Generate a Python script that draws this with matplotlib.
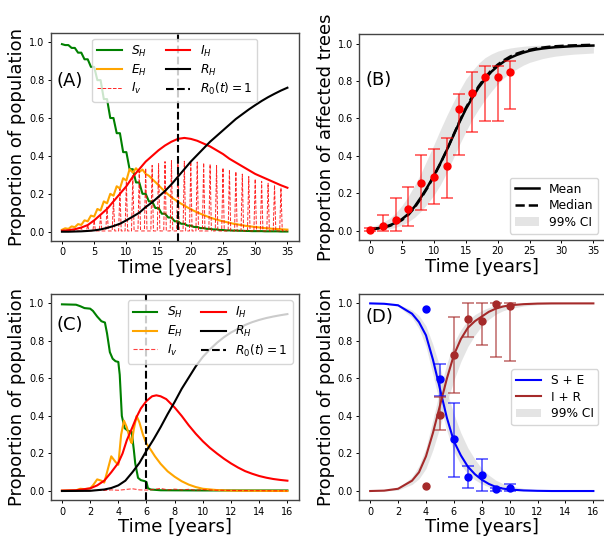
import numpy as np
import matplotlib
matplotlib.use("Agg")
import matplotlib.pyplot as plt

# ---------- panel A ----------
tA_half = np.arange(0, 35.5, 0.5)
SA = [0.990, 0.985, 0.985, 0.970, 0.970, 0.945, 0.945, 0.910, 0.910, 0.870,
      0.870, 0.800, 0.800, 0.700, 0.700, 0.600, 0.600, 0.520, 0.520, 0.420,
      0.420, 0.330, 0.330, 0.260, 0.260, 0.200, 0.200, 0.160, 0.160, 0.125,
      0.125, 0.095, 0.095, 0.075, 0.075, 0.055, 0.055, 0.042, 0.042, 0.032,
      0.032, 0.025, 0.025, 0.019, 0.019, 0.015, 0.015, 0.012, 0.012, 0.009,
      0.009, 0.007, 0.007, 0.006, 0.006, 0.005, 0.005, 0.004, 0.004, 0.003,
      0.003, 0.003, 0.003, 0.002, 0.002, 0.002, 0.002, 0.002, 0.001, 0.001,
      0.001]
EA = [0.010, 0.018, 0.015, 0.028, 0.024, 0.040, 0.036, 0.060, 0.055, 0.085,
      0.080, 0.120, 0.112, 0.160, 0.150, 0.200, 0.190, 0.240, 0.228, 0.282,
      0.270, 0.330, 0.312, 0.335, 0.315, 0.328, 0.305, 0.295, 0.278, 0.262,
      0.245, 0.228, 0.212, 0.196, 0.182, 0.170, 0.158, 0.148, 0.138, 0.128,
      0.119, 0.110, 0.102, 0.095, 0.088, 0.081, 0.075, 0.069, 0.064, 0.059,
      0.055, 0.051, 0.047, 0.043, 0.040, 0.037, 0.034, 0.031, 0.029, 0.027,
      0.025, 0.023, 0.021, 0.019, 0.018, 0.016, 0.015, 0.014, 0.013, 0.012,
      0.011]
tA_year = np.arange(0, 36)
IA = [0.005, 0.008, 0.013, 0.022, 0.035, 0.060, 0.090, 0.120, 0.160, 0.200,
      0.240, 0.290, 0.330, 0.370, 0.400, 0.430, 0.455, 0.475, 0.490, 0.495,
      0.490, 0.480, 0.465, 0.450, 0.430, 0.410, 0.385, 0.365, 0.345, 0.325,
      0.305, 0.290, 0.275, 0.260, 0.245, 0.232]
RA = [0.000, 0.000, 0.001, 0.002, 0.004, 0.007, 0.012, 0.020, 0.030, 0.042,
      0.060, 0.080, 0.100, 0.130, 0.155, 0.185, 0.215, 0.250, 0.290, 0.330,
      0.370, 0.405, 0.440, 0.475, 0.505, 0.535, 0.565, 0.595, 0.620, 0.645,
      0.668, 0.690, 0.710, 0.728, 0.745, 0.760]
# vector peaks, one per year (years 1..34)
Iv_peak_year = np.arange(1, 35)
Iv_peak = [0.003, 0.010, 0.020, 0.035, 0.060, 0.090, 0.130, 0.175, 0.225, 0.265,
           0.300, 0.320, 0.335, 0.350, 0.360, 0.370, 0.375, 0.375, 0.372, 0.370,
           0.368, 0.363, 0.356, 0.350, 0.337, 0.327, 0.317, 0.304, 0.291, 0.278,
           0.266, 0.256, 0.246, 0.232]
Iv_base = 0.004
R0_A = 18

# ---------- panel B ----------
tB = np.arange(0, 36)
mean_B = [0.008, 0.012, 0.018, 0.028, 0.042, 0.062, 0.090, 0.130, 0.180, 0.235,
          0.295, 0.360, 0.430, 0.505, 0.580, 0.650, 0.710, 0.765, 0.810, 0.850,
          0.880, 0.905, 0.925, 0.940, 0.952, 0.962, 0.969, 0.974, 0.978, 0.981,
          0.983, 0.985, 0.987, 0.988, 0.989, 0.990]
median_B = [0.008, 0.011, 0.016, 0.025, 0.038, 0.057, 0.085, 0.125, 0.175, 0.230,
            0.292, 0.358, 0.430, 0.507, 0.584, 0.656, 0.717, 0.772, 0.818, 0.858,
            0.888, 0.912, 0.932, 0.947, 0.958, 0.967, 0.974, 0.979, 0.983, 0.986,
            0.988, 0.990, 0.991, 0.992, 0.993, 0.994]
lo_B = [0.000, 0.003, 0.006, 0.010, 0.018, 0.030, 0.048, 0.072, 0.105, 0.145,
        0.190, 0.245, 0.310, 0.385, 0.460, 0.530, 0.595, 0.650, 0.700, 0.745,
        0.785, 0.818, 0.845, 0.865, 0.885, 0.900, 0.910, 0.920, 0.927, 0.933,
        0.937, 0.941, 0.944, 0.946, 0.948, 0.950]
hi_B = [0.020, 0.030, 0.045, 0.065, 0.095, 0.135, 0.185, 0.245, 0.310, 0.385,
        0.460, 0.540, 0.615, 0.685, 0.750, 0.810, 0.855, 0.895, 0.925, 0.945,
        0.960, 0.970, 0.977, 0.982, 0.986, 0.989, 0.991, 0.992, 0.993, 0.994,
        0.995, 0.996, 0.996, 0.997, 0.997, 0.997]
obs_t_B = [0, 2, 4, 6, 8, 10, 12, 14, 16, 18, 20, 22]
obs_B = [0.005, 0.025, 0.058, 0.115, 0.257, 0.285, 0.346, 0.649, 0.738, 0.820, 0.820, 0.849]
obs_lo_B = [0.000, 0.000, 0.000, 0.025, 0.113, 0.145, 0.172, 0.405, 0.526, 0.587, 0.587, 0.649]
obs_hi_B = [0.012, 0.085, 0.175, 0.235, 0.405, 0.437, 0.497, 0.731, 0.850, 0.881, 0.881, 0.909]

# ---------- panel C ----------
tC_S = [0, 1.0, 1.3, 1.6, 2.0, 2.2, 2.5, 2.8, 3.05, 3.2, 3.4, 3.6, 3.8, 4.0, 4.1,
        4.25, 4.45, 4.7, 4.95, 5.1, 5.2, 5.4, 5.6, 5.9, 6.0, 6.1, 6.3, 7.0, 10, 16]
SC = [0.995, 0.993, 0.985, 0.975, 0.972, 0.960, 0.930, 0.905, 0.898, 0.840, 0.740,
      0.705, 0.692, 0.688, 0.620, 0.400, 0.335, 0.320, 0.315, 0.220, 0.148, 0.070,
      0.058, 0.052, 0.048, 0.015, 0.008, 0.004, 0.003, 0.003]
tC_E = [0, 1.0, 1.3, 1.6, 2.0, 2.2, 2.5, 2.8, 3.0, 3.2, 3.5, 3.8, 4.0, 4.2, 4.4,
        4.6, 4.85, 4.95, 5.1, 5.3, 5.5, 5.75, 6.0, 6.3, 6.6, 7.0, 7.5, 8.0, 8.5,
        9.0, 9.5, 10, 11, 12, 16]
EC = [0.002, 0.004, 0.012, 0.010, 0.014, 0.030, 0.062, 0.055, 0.045, 0.100, 0.185,
      0.155, 0.140, 0.300, 0.375, 0.340, 0.270, 0.255, 0.330, 0.400, 0.365, 0.300,
      0.252, 0.220, 0.185, 0.145, 0.105, 0.076, 0.052, 0.034, 0.021, 0.012, 0.005,
      0.002, 0.000]
tC_I = [0, 1, 2, 2.5, 3, 3.5, 4, 4.3, 4.6, 5.0, 5.3, 5.6, 6.0, 6.4, 6.7, 7.0, 7.4,
        8, 8.5, 9, 9.5, 10, 10.5, 11, 11.5, 12, 12.5, 13, 13.5, 14, 14.5, 15, 15.5, 16]
IC = [0.002, 0.004, 0.014, 0.030, 0.055, 0.100, 0.150, 0.200, 0.270, 0.340, 0.395,
      0.440, 0.480, 0.505, 0.510, 0.505, 0.490, 0.445, 0.400, 0.350, 0.305, 0.265,
      0.230, 0.200, 0.172, 0.147, 0.125, 0.106, 0.092, 0.080, 0.071, 0.064, 0.059,
      0.055]
tC_R = [0, 2, 3, 3.5, 4, 4.5, 5, 5.5, 6, 6.5, 7, 7.5, 8, 8.5, 9, 9.5, 10, 10.5, 11,
        11.5, 12, 12.5, 13, 13.5, 14, 14.5, 15, 15.5, 16]
RC = [0.000, 0.001, 0.008, 0.016, 0.030, 0.055, 0.100, 0.150, 0.215, 0.275, 0.340,
      0.410, 0.475, 0.545, 0.605, 0.665, 0.715, 0.755, 0.790, 0.820, 0.845, 0.865,
      0.885, 0.900, 0.912, 0.922, 0.930, 0.937, 0.943]
tC_V = [0, 1, 2, 2.5, 3, 3.5, 4, 4.5, 5, 5.5, 6, 6.5, 7, 7.5, 8, 8.5, 9, 9.5, 10,
        11, 12, 13, 14, 15, 16]
VC = [0.000, 0.001, 0.002, 0.004, 0.003, 0.006, 0.004, 0.008, 0.012, 0.006, 0.005,
      0.008, 0.014, 0.006, 0.010, 0.006, 0.009, 0.004, 0.007, 0.004, 0.003, 0.002,
      0.002, 0.001, 0.001]
R0_C = 6

# ---------- panel D ----------
tD = [0, 1, 2, 3, 3.5, 4, 4.5, 5, 5.5, 6, 6.5, 7, 7.5, 8, 8.5, 9, 9.5, 10, 11, 12,
      13, 14, 15, 16]
SE_D = [1.000, 0.998, 0.990, 0.945, 0.900, 0.830, 0.700, 0.545, 0.390, 0.265, 0.190,
        0.130, 0.090, 0.060, 0.038, 0.022, 0.013, 0.008, 0.003, 0.001, 0.000, 0.000,
        0.000, 0.000]
SE_lo = [1.000, 0.996, 0.985, 0.925, 0.865, 0.770, 0.620, 0.460, 0.320, 0.210, 0.140,
         0.090, 0.060, 0.038, 0.022, 0.012, 0.006, 0.003, 0.001, 0.000, 0.000, 0.000,
         0.000, 0.000]
SE_hi = [1.000, 1.000, 0.995, 0.965, 0.935, 0.880, 0.780, 0.660, 0.530, 0.410, 0.310,
         0.230, 0.170, 0.120, 0.085, 0.058, 0.040, 0.028, 0.014, 0.007, 0.003, 0.001,
         0.000, 0.000]
IR_D = [0.000, 0.002, 0.012, 0.055, 0.100, 0.185, 0.310, 0.455, 0.600, 0.725, 0.810,
        0.870, 0.905, 0.930, 0.955, 0.972, 0.983, 0.990, 0.996, 0.999, 1.000, 1.000,
        1.000, 1.000]
IR_lo = [0.000, 0.000, 0.005, 0.035, 0.065, 0.120, 0.220, 0.340, 0.470, 0.590, 0.690,
         0.770, 0.830, 0.880, 0.915, 0.942, 0.960, 0.972, 0.986, 0.993, 0.997, 0.999,
         1.000, 1.000]
IR_hi = [0.000, 0.004, 0.015, 0.075, 0.135, 0.230, 0.380, 0.540, 0.680, 0.790, 0.860,
         0.910, 0.940, 0.962, 0.978, 0.988, 0.994, 0.997, 0.999, 1.000, 1.000, 1.000,
         1.000, 1.000]
obs_t_D = [4, 5, 6, 7, 8, 9, 10]
obs_SE = [0.970, 0.595, 0.275, 0.073, 0.085, 0.009, 0.017]
obs_SE_lo = [0.970, 0.505, 0.077, 0.015, 0.000, 0.000, 0.000]
obs_SE_hi = [0.970, 0.677, 0.467, 0.133, 0.171, 0.015, 0.040]
obs_IR = [0.027, 0.405, 0.725, 0.915, 0.906, 0.997, 0.985]
obs_IR_lo = [0.027, 0.325, 0.524, 0.822, 0.778, 0.712, 0.694]
obs_IR_hi = [0.027, 0.502, 0.929, 1.000, 1.000, 1.000, 1.000]

# ---------- drawing ----------
LABEL_FS = 13
TICK_FS = 7
LEG_FS = 8.8
LW = 1.5

fig = plt.figure(figsize=(6.04, 5.38), dpi=100)
axA = fig.add_axes([0.0839, 0.5517, 0.4106, 0.3874])
axB = fig.add_axes([0.5944, 0.5539, 0.4065, 0.3823])
axC = fig.add_axes([0.0839, 0.0699, 0.4106, 0.3836])
axD = fig.add_axes([0.5944, 0.0699, 0.4065, 0.3836])


def style(ax, ylabel, tag, tag_y):
    ax.set_xlabel("Time [years]", fontsize=LABEL_FS, labelpad=1)
    ax.set_ylabel(ylabel, fontsize=LABEL_FS, labelpad=2)
    ax.tick_params(labelsize=TICK_FS, length=2.5, width=0.7, pad=2)
    for s in ax.spines.values():
        s.set_color("#444444")
        s.set_linewidth(1.0)
    ax.text(0.025, tag_y, tag, transform=ax.transAxes, fontsize=LABEL_FS, va="center")


def vector_spikes(years, peaks, base):
    xs, ys = [0], [base]
    for k, p in zip(years, peaks):
        xs += [k - 0.2, k, k + 0.2]
        ys += [base, p, base]
    xs.append(35)
    ys.append(base)
    return xs, ys


def obs_errorbar(ax, t, v, lo, hi, color):
    t, v, lo, hi = map(np.array, (t, v, lo, hi))
    keep = hi > lo
    ax.errorbar(t[keep], v[keep], yerr=[v[keep] - lo[keep], hi[keep] - v[keep]],
                fmt="none", ecolor=color, alpha=0.65, elinewidth=1.2,
                capsize=4.5, capthick=1.2, zorder=3)
    ax.plot(t, v, "o", color=color, ms=5, zorder=4)


# A
axA.plot(tA_half, SA, color="green", lw=LW, label="$S_H$")
axA.plot(tA_half, EA, color="orange", lw=LW, label="$E_H$")
vx, vy = vector_spikes(Iv_peak_year, Iv_peak, Iv_base)
axA.plot(vx, vy, color="red", lw=0.7, ls="--", alpha=0.85, label="$I_v$")
axA.plot(tA_year, IA, color="red", lw=LW, label="$I_H$")
axA.plot(tA_year, RA, color="black", lw=LW, label="$R_H$")
axA.axvline(R0_A, color="black", ls="--", lw=LW, label="$R_0(t) = 1$")
axA.legend(loc="upper center", ncol=2, fontsize=LEG_FS, handlelength=2,
           columnspacing=1.5, labelspacing=0.3, borderpad=0.4)
axA.set_xlim(-1.75, 36.75)
axA.set_ylim(-0.05, 1.05)
style(axA, "Proportion of population", "(A)", 0.77)

# B
axB.fill_between(tB, lo_B, hi_B, color="lightgray", alpha=0.6, lw=0, label="99% CI")
axB.plot(tB, mean_B, color="black", lw=LW + 0.3, label="Mean")
axB.plot(tB, median_B, color="black", lw=LW + 0.3, ls="--", label="Median")
obs_errorbar(axB, obs_t_B, obs_B, obs_lo_B, obs_hi_B, "red")
h, l = axB.get_legend_handles_labels()
axB.legend([h[1], h[2], h[0]], [l[1], l[2], l[0]], loc="lower right", fontsize=LEG_FS,
           handlelength=2, labelspacing=0.3, borderpad=0.4)
axB.set_xlim(-1.75, 36.75)
axB.set_ylim(-0.05, 1.05)
style(axB, "Proportion of affected trees", "(B)", 0.78)

# C
axC.plot(tC_S, SC, color="green", lw=LW, label="$S_H$")
axC.plot(tC_E, EC, color="orange", lw=LW, label="$E_H$")
axC.plot(tC_V, VC, color="red", lw=0.8, ls="--", alpha=0.75, label="$I_v$")
axC.plot(tC_I, IC, color="red", lw=LW, label="$I_H$")
axC.plot(tC_R, RC, color="black", lw=LW, label="$R_H$")
axC.axvline(R0_C, color="black", ls="--", lw=LW, label="$R_0(t) = 1$")
axC.legend(loc="upper right", ncol=2, fontsize=LEG_FS, handlelength=2,
           columnspacing=1.5, labelspacing=0.3, borderpad=0.4)
axC.set_xlim(-0.8, 16.8)
axC.set_ylim(-0.05, 1.05)
axC.set_xticks(range(0, 17, 2))
style(axC, "Proportion of population", "(C)", 0.85)

# D
axD.fill_between(tD, SE_lo, SE_hi, color="lightgray", alpha=0.6, lw=0, label="99% CI")
axD.fill_between(tD, IR_lo, IR_hi, color="lightgray", alpha=0.6, lw=0)
axD.plot(tD, SE_D, color="blue", lw=LW, label="S + E")
axD.plot(tD, IR_D, color="brown", lw=LW, label="I + R")
obs_errorbar(axD, obs_t_D, obs_SE, obs_SE_lo, obs_SE_hi, "blue")
obs_errorbar(axD, obs_t_D, obs_IR, obs_IR_lo, obs_IR_hi, "brown")
h, l = axD.get_legend_handles_labels()
axD.legend([h[1], h[2], h[0]], [l[1], l[2], l[0]], loc="center right", fontsize=LEG_FS,
           handlelength=2, labelspacing=0.3, borderpad=0.4)
axD.set_xlim(-0.8, 16.8)
axD.set_ylim(-0.05, 1.05)
axD.set_xticks(range(0, 17, 2))
style(axD, "Proportion of population", "(D)", 0.89)

fig.savefig("out.png", dpi=100)
